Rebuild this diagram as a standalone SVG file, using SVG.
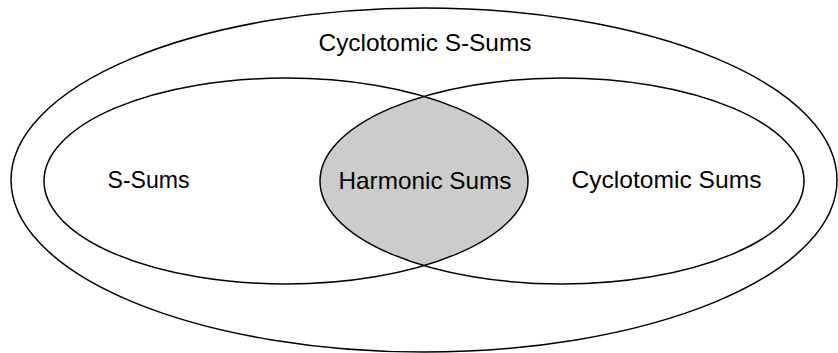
<svg xmlns="http://www.w3.org/2000/svg" width="838" height="353" viewBox="0 0 838 353">
  <style>
    .set { fill: none; stroke: #000; stroke-width: 1.5; }
    .lbl { font-family: "Liberation Sans", Arial, sans-serif; font-size: 24px; fill: #000; text-anchor: middle; }
  </style>
  <defs>
    <clipPath id="clipRight">
      <ellipse cx="562" cy="181" rx="242" ry="103"/>
    </clipPath>
  </defs>
  <rect x="0" y="0" width="838" height="353" fill="#fff"/>
  <g id="harmonic-sums-fill">
    <ellipse cx="286" cy="181" rx="242" ry="103" fill="#cccccc" clip-path="url(#clipRight)"/>
  </g>
  <g id="cyclotomic-s-sums">
    <ellipse class="set" cx="424" cy="180" rx="413" ry="172"/>
    <text class="lbl" x="425" y="51" textLength="213" lengthAdjust="spacingAndGlyphs">Cyclotomic S-Sums</text>
  </g>
  <g id="s-sums">
    <ellipse class="set" cx="286" cy="181" rx="242" ry="103"/>
    <text class="lbl" x="148.5" y="188" textLength="82" lengthAdjust="spacingAndGlyphs">S-Sums</text>
  </g>
  <g id="cyclotomic-sums">
    <ellipse class="set" cx="562" cy="181" rx="242" ry="103"/>
    <text class="lbl" x="666.5" y="188" textLength="190" lengthAdjust="spacingAndGlyphs">Cyclotomic Sums</text>
  </g>
  <g id="harmonic-sums">
    <text class="lbl" x="425" y="189" textLength="173" lengthAdjust="spacingAndGlyphs">Harmonic Sums</text>
  </g>
  <g id="connectors"/>
</svg>
